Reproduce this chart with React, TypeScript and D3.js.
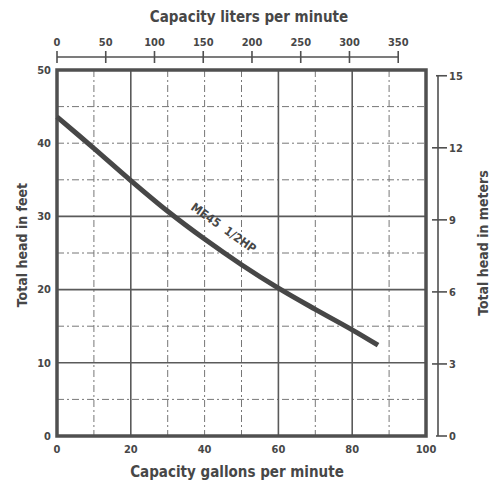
import React from "react";
import * as d3 from "d3";

const gpmPoints = [0, 10, 20, 30, 40, 50, 60, 70, 80, 87];
const headFeet = [43.6, 39.3, 34.9, 30.7, 26.9, 23.4, 20.2, 17.3, 14.5, 12.4];
const gpmTicks = [0, 20, 40, 60, 80, 100];
const feetTicks = [0, 10, 20, 30, 40, 50];
const literTicks = [0, 50, 100, 150, 200, 250, 300, 350];
const meterTicks = [0, 3, 6, 9, 12, 15];
const solidVGrid = [20, 60, 80];
const dashVGrid = [10, 30, 40, 50, 70, 90];
const solidHGrid = [10, 20, 30];
const dashHGrid = [5, 15, 25, 35, 40, 45];
const curveLabel = "ME45  1/2HP";
const labelAtGpm = 42;

const LITERS_PER_GALLON = 3.785;
const METERS_PER_FOOT = 0.3048;

const FONT = "'Liberation Sans Narrow', 'DejaVu Sans Condensed', 'Roboto', sans-serif";
const INK = "#474747";

export default function App() {
  const left = 57, right = 426, top = 70, bottom = 436;
  const x = d3.scaleLinear().domain([0, 100]).range([left, right]);
  const y = d3.scaleLinear().domain([0, 50]).range([bottom, top]);
  const xL = (l: number) => x(l / LITERS_PER_GALLON);
  const yM = (m: number) => y(m / METERS_PER_FOOT);

  const data = gpmPoints.map((g, i) => [g, headFeet[i]] as [number, number]);
  const line = d3
    .line<[number, number]>()
    .x((d) => x(d[0]))
    .y((d) => y(d[1]))
    .curve(d3.curveCatmullRom.alpha(0.5));

  // label placement along curve
  const interp = d3.scaleLinear().domain(gpmPoints).range(headFeet);
  const cx = x(labelAtGpm), cy = y(interp(labelAtGpm));
  const dx = x(labelAtGpm + 5) - x(labelAtGpm - 5);
  const dy = y(interp(labelAtGpm + 5)) - y(interp(labelAtGpm - 5));
  const ang = Math.atan2(dy, dx);
  const nx = Math.sin(ang), ny = -Math.cos(ang);
  const off = 16;
  const lx = cx + nx * off, ly = cy + ny * off;

  const litAxisY = 57;
  const mAxisX = 438;
  const dashStyle = "7,3,2,3";

  return (
    <div style={{ position: "fixed", left: 0, top: 0 }}>
      <svg width={496} height={484} style={{ display: "block", background: "#fff" }} fontFamily={FONT}>
        <rect x={0} y={0} width={496} height={484} fill="#fff" />
        {/* titles */}
        <text x={249} y={22} textAnchor="middle" fontSize={15} fontWeight="bold" fill={INK}>
          Capacity liters per minute
        </text>
        <text x={237} y={477} textAnchor="middle" fontSize={15} fontWeight="bold" fill={INK}>
          Capacity gallons per minute
        </text>
        <text
          transform={`translate(27,${245}) rotate(-90)`}
          textAnchor="middle"
          fontSize={14}
          fontWeight="bold"
          fill={INK}
        >
          Total head in feet
        </text>
        <text
          transform={`translate(488,${243}) rotate(-90)`}
          textAnchor="middle"
          fontSize={14}
          fontWeight="bold"
          fill={INK}
        >
          Total head in meters
        </text>

        {/* grid */}
        {dashVGrid.map((g) => (
          <line key={"dv" + g} x1={x(g)} x2={x(g)} y1={top} y2={bottom} stroke="#777" strokeWidth={1} strokeDasharray={dashStyle} />
        ))}
        {dashHGrid.map((f) => (
          <line key={"dh" + f} x1={left} x2={right} y1={y(f)} y2={y(f)} stroke="#777" strokeWidth={1} strokeDasharray={dashStyle} />
        ))}
        {solidVGrid.map((g) => (
          <line key={"sv" + g} x1={x(g)} x2={x(g)} y1={top} y2={bottom} stroke="#5a5a5a" strokeWidth={1.6} />
        ))}
        {solidHGrid.map((f) => (
          <line key={"sh" + f} x1={left} x2={right} y1={y(f)} y2={y(f)} stroke="#5a5a5a" strokeWidth={1.6} />
        ))}

        {/* border */}
        <rect x={left} y={top} width={right - left} height={bottom - top} fill="none" stroke="#505050" strokeWidth={3.5} />

        {/* left ticks labels */}
        {feetTicks.map((f) => (
          <text key={"fl" + f} x={left - 6} y={y(f)} dy="0.35em" textAnchor="end" fontSize={11} fontWeight="bold" fill={INK}>
            {f}
          </text>
        ))}
        {/* bottom tick labels */}
        {gpmTicks.map((g) => (
          <text key={"gl" + g} x={x(g)} y={bottom + 17} textAnchor="middle" fontSize={11} fontWeight="bold" fill={INK}>
            {g}
          </text>
        ))}

        {/* liters axis */}
        <line x1={xL(0)} x2={xL(350)} y1={litAxisY} y2={litAxisY} stroke="#505050" strokeWidth={1.6} />
        {literTicks.map((l) => (
          <g key={"lt" + l}>
            <line x1={xL(l)} x2={xL(l)} y1={litAxisY - 6} y2={litAxisY + 6} stroke="#505050" strokeWidth={1.6} />
            <text x={xL(l)} y={litAxisY - 11} textAnchor="middle" fontSize={11} fontWeight="bold" fill={INK}>
              {l}
            </text>
          </g>
        ))}

        {/* meters axis */}
        <line x1={mAxisX} x2={mAxisX} y1={yM(15)} y2={yM(0)} stroke="#505050" strokeWidth={1.6} />
        {meterTicks.map((m) => {
          const end = m === 0 || m === 15;
          return (
            <g key={"mt" + m}>
              <line x1={end ? mAxisX - 2 : mAxisX - 6} x2={mAxisX + 9} y1={yM(m)} y2={yM(m)} stroke="#505050" strokeWidth={1.6} />
              <text x={mAxisX + 11} y={yM(m)} dy="0.35em" textAnchor="start" fontSize={11} fontWeight="bold" fill={INK}>
                {m}
              </text>
            </g>
          );
        })}

        {/* curve */}
        <path d={line(data) || ""} fill="none" stroke="#474747" strokeWidth={5} strokeLinecap="butt" />
        <text
          transform={`translate(${lx},${ly}) rotate(${(ang * 180) / Math.PI})`}
          textAnchor="middle"
          fontSize={12}
          fontWeight="bold"
          fill={INK}
          style={{ whiteSpace: "pre" }}
        >
          {curveLabel}
        </text>
      </svg>
    </div>
  );
}
